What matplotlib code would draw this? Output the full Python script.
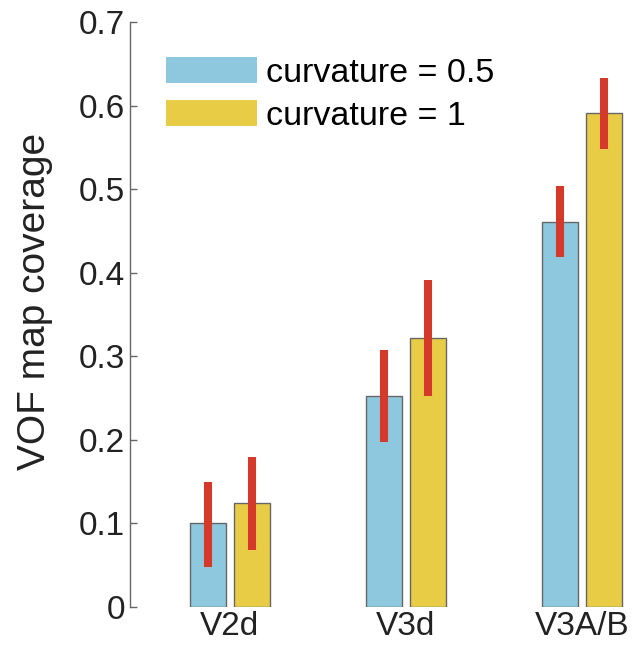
import numpy as np
import matplotlib.pyplot as plt
from matplotlib.patches import Patch

plt.rcParams['font.family'] = ['Liberation Sans', 'DejaVu Sans']

regions = ['V2d', 'V3d', 'V3A/B']
labels = ['curvature = 0.5', 'curvature = 1']

cov_05 = [0.100, 0.253, 0.461]
lo_05 = [0.048, 0.198, 0.419]
hi_05 = [0.150, 0.308, 0.504]

cov_1 = [0.124, 0.322, 0.591]
lo_1 = [0.068, 0.253, 0.548]
hi_1 = [0.179, 0.391, 0.633]

blue = '#8ec8df'
yellow = '#e9cc45'
red = '#d5392a'
edge = '#666666'

fig = plt.figure(figsize=(6.34, 6.48), dpi=100)
ax = fig.add_axes([130/634, 41/648, 504/634, 585/648])

x = np.arange(1, len(regions) + 1)
w = 0.207
off = 0.126

ax.bar(x - off, cov_05, w, color=blue, edgecolor=edge, linewidth=1)
ax.bar(x + off, cov_1, w, color=yellow, edgecolor=edge, linewidth=1)
ax.vlines(x - off, lo_05, hi_05, color=red, linewidth=5.8)
ax.vlines(x + off, lo_1, hi_1, color=red, linewidth=5.8)

ax.set_xlim(0.432, 3.296)
ax.set_ylim(0, 0.7)
ax.set_yticks(np.arange(0, 0.71, 0.1))
ax.set_yticklabels(['0', '0.1', '0.2', '0.3', '0.4', '0.5', '0.6', '0.7'])
ax.set_xticks(x)
ax.set_xticklabels(regions)

for s in ['top', 'right', 'bottom']:
    ax.spines[s].set_visible(False)
ax.spines['left'].set_color('#666666')
ax.spines['left'].set_linewidth(1)
ax.tick_params(axis='y', direction='in', length=5, width=1, color='#666666',
               labelsize=24, pad=3.5, labelcolor='#222222')
ax.tick_params(axis='x', length=0, labelsize=24, pad=3, labelcolor='#222222')
ax.set_ylabel('VOF map coverage', fontsize=28, color='#222222')
ax.yaxis.set_label_coords(-0.153, 0.523)

handles = [Patch(facecolor=blue), Patch(facecolor=yellow)]
ax.legend(handles, labels, loc='upper left', bbox_to_anchor=(166/634, 1 - 57/648),
          bbox_transform=fig.transFigure, frameon=False, fontsize=24.5,
          handlelength=2.68, handleheight=0.78, handletextpad=0.26,
          labelspacing=0.34, borderpad=0, borderaxespad=0)

fig.savefig('out.png', dpi=100)
